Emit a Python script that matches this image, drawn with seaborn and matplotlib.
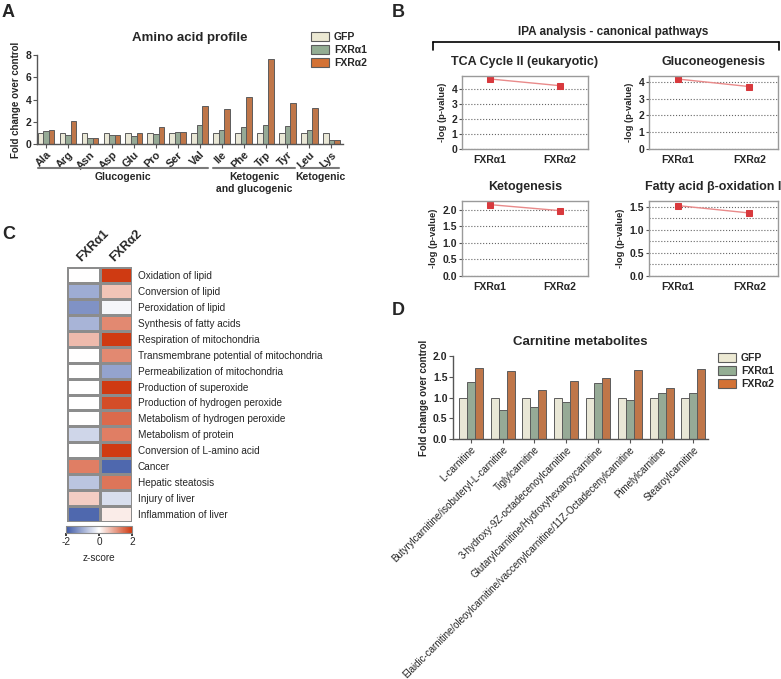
"""Multi-panel figure: amino acids, IPA pathways, heatmap and carnitines."""

import matplotlib
matplotlib.use("Agg")
import matplotlib.pyplot as plt
from matplotlib.colors import LinearSegmentedColormap
from matplotlib.lines import Line2D
from matplotlib.ticker import MultipleLocator
import pandas as pd
import seaborn as sns

# ---- data -------------------------------------------------------------
groups = ["GFP", "FXRα1", "FXRα2"]
palette = ["#ece9d3", "#93ad93", "#d37235"]

amino_acids = ["Ala", "Arg", "Asn", "Asp", "Glu", "Pro", "Ser", "Val",
               "Ile", "Phe", "Trp", "Tyr", "Leu", "Lys"]
aa_gfp = [1, 1, 1, 1, 1, 1, 1, 1, 1, 1, 1, 1, 1, 1]
aa_fxr1 = [1.15, 0.80, 0.55, 0.82, 0.70, 0.90, 1.07, 1.70,
           1.27, 1.55, 1.72, 1.62, 1.27, 0.38]
aa_fxr2 = [1.22, 2.05, 0.58, 0.85, 1.00, 1.55, 1.07, 3.45,
           3.15, 4.25, 7.60, 3.68, 3.20, 0.35]
aa_classes = [("Glucogenic", 0, 7), ("Ketogenic\nand glucogenic", 8, 11),
              ("Ketogenic", 12, 13)]

conditions = ["FXRα1", "FXRα2"]
pathway_titles = ["TCA Cycle II (eukaryotic)", "Gluconeogenesis",
                  "Ketogenesis", "Fatty acid β-oxidation I"]
tca = [4.70, 4.25]
gluconeo = [4.17, 3.72]
ketogenesis = [2.15, 1.97]
fa_oxidation = [1.53, 1.37]

functions = ["Oxidation of lipid", "Conversion of lipid", "Peroxidation of lipid",
             "Synthesis of fatty acids", "Respiration of mitochondria",
             "Transmembrane potential of mitochondria",
             "Permeabilization of mitochondria", "Production of superoxide",
             "Production of hydrogen peroxide", "Metabolism of hydrogen peroxide",
             "Metabolism of protein", "Conversion of L-amino acid", "Cancer",
             "Hepatic steatosis", "Injury of liver", "Inflammation of liver"]
z_fxr1 = [0.0, -1.0, -1.3, -0.9, 0.7, 0.0, 0.0, 0.0,
          0.0, 0.0, -0.5, 0.0, 1.3, -0.7, 0.5, -1.8]
z_fxr2 = [2.0, 0.6, -0.1, 1.2, 2.0, 1.2, -1.1, 2.0,
          1.8, 1.5, 1.3, 2.0, -1.8, 1.4, -0.4, 0.2]

carnitines = ["L-carnitine", "Butyrylcarnitine/isobuteryl-L-carnitine",
              "Tiglylcarnitine", "3-hydroxy-9Z-octadecenoylcarnitine",
              "Glutarylcarnitine/Hydroxyhexanoycarnitine",
              "Elaidic-carnitine/oleoylcarnitine/vaccenylcarnitine/11Z-Octadecenylcarnitine",
              "Pimelylcarnitine", "Stearoylcarnitine"]
carn_gfp = [1, 1, 1, 1, 1, 1, 1, 1]
carn_fxr1 = [1.37, 0.69, 0.78, 0.90, 1.34, 0.95, 1.12, 1.11]
carn_fxr2 = [1.70, 1.63, 1.19, 1.40, 1.46, 1.66, 1.22, 1.69]

W, H = 781, 679


def box(l, t, r, b):
    return [l / W, 1 - b / H, (r - l) / W, (b - t) / H]


def long_table(names, series):
    rows = []
    for g, vals in zip(groups, series):
        for n, v in zip(names, vals):
            rows.append({"name": n, "group": g, "value": v})
    return pd.DataFrame(rows)


def bar_panel(ax, df, width):
    sns.barplot(data=df, x="name", y="value", hue="group", palette=palette,
                width=width, edgecolor="#5c5c5c", linewidth=0.7, ax=ax,
                legend=False, errorbar=None)
    sns.despine(ax=ax)
    for s in ("left", "bottom"):
        ax.spines[s].set_color("#555555")
        ax.spines[s].set_linewidth(1.0)
    ax.set_xlabel("")
    ax.set_ylabel("Fold change over control", fontsize=7, fontweight="bold",
                  labelpad=3)
    ax.tick_params(axis="both", length=3, width=0.8, color="#555555", pad=1)


def bold_yticks(ax, size=7.5):
    for lab in ax.get_yticklabels():
        lab.set_fontweight("bold")
        lab.set_fontsize(size)


def bar_legend(fig, x, y):
    handles = [plt.Rectangle((0, 0), 1, 1, facecolor=c, edgecolor="#5c5c5c", lw=0.8)
               for c in palette]
    fig.legend(handles, groups, loc="upper left", bbox_to_anchor=(x / W, 1 - y / H),
               frameon=False, prop={"weight": "bold", "size": 7.5},
               handlelength=1.7, handleheight=1.0, labelspacing=0.25,
               handletextpad=0.5, borderpad=0, borderaxespad=0)


def main():
    sns.set_theme(style="ticks")
    plt.rcParams["font.family"] = ["Liberation Sans", "DejaVu Sans"]

    fig = plt.figure(figsize=(W / 100, H / 100), dpi=100)

    for letter, x, y in [("A", 2, 4), ("B", 392, 4), ("C", 2, 226), ("D", 392, 302)]:
        fig.text(x / W, 1 - y / H, letter, fontsize=13, fontweight="bold", va="top")

    # ---- A: amino acid profile ----
    ax = fig.add_axes(box(37, 55, 343, 144))
    bar_panel(ax, long_table(amino_acids, [aa_gfp, aa_fxr1, aa_fxr2]), 0.76)
    ax.set_ylim(0, 8)
    ax.set_yticks([0, 2, 4, 6, 8])
    bold_yticks(ax)
    ax.set_xlim(-0.41, 13.53)
    ax.set_xticks(range(len(amino_acids)))
    ax.set_xticklabels(amino_acids, rotation=45, ha="right",
                       rotation_mode="anchor", fontsize=7.8, fontweight="bold")
    ax.set_title("Amino acid profile", fontsize=9.5, fontweight="bold", pad=10)
    trans = ax.get_xaxis_transform()
    for name, i0, i1 in aa_classes:
        ax.plot([i0 - 0.38, i1 + 0.36], [-0.27, -0.27], color="#7a7a7a", lw=1.5,
                transform=trans, clip_on=False)
        ax.text((i0 + i1) / 2, -0.32, name, transform=trans, ha="center", va="top",
                fontsize=7.5, fontweight="bold", linespacing=1.2)
    bar_legend(fig, 311, 32)

    # ---- B: IPA canonical pathways ----
    fig.text(613 / W, 1 - 32 / H, "IPA analysis - canonical pathways",
             fontsize=8.5, fontweight="bold", ha="center", va="center")
    for xs, ys in [([433, 779], [42, 42]), ([433, 433], [42, 50]), ([779, 779], [42, 50])]:
        fig.add_artist(Line2D([x / W for x in xs], [1 - y / H for y in ys],
                              color="black", lw=1.2))

    specs = [(tca, box(462, 76, 588, 149), 4.9, 1, None),
             (gluconeo, box(649, 76, 778, 149), 4.35, 1, None),
             (ketogenesis, box(462, 201, 588, 276), 2.26, 0.5, None),
             (fa_oxidation, box(649, 201, 778, 276), 1.63, 0.5, 0.25)]
    for title, (vals, rect, top, step, minor) in zip(pathway_titles, specs):
        bx = fig.add_axes(rect)
        sns.pointplot(x=conditions, y=vals, ax=bx, color="#e98a8a",
                      marker="s", markersize=4.5, linewidth=1.0, errorbar=None)
        ln = bx.lines[-1]
        ln.set_markerfacecolor("#d8393d")
        ln.set_markeredgecolor("#d8393d")
        bx.set_xlim(-0.4, 1.4)
        bx.set_ylim(0, top)
        bx.yaxis.set_major_locator(MultipleLocator(step))
        if minor:
            bx.yaxis.set_minor_locator(MultipleLocator(minor))
            bx.grid(True, axis="y", which="minor", ls=":", color="#666666", lw=0.8)
            bx.tick_params(axis="y", which="minor", length=0)
        bx.grid(True, axis="y", which="major", ls=":", color="#666666", lw=0.8)
        if step == 0.5:
            bx.yaxis.set_major_formatter("{x:.1f}")
        for s in bx.spines.values():
            s.set_color("#9a9a9a")
            s.set_linewidth(1.0)
        bx.tick_params(axis="x", length=0, pad=4)
        bx.tick_params(axis="y", length=2.5, width=0.8, color="#555555", pad=1)
        for lab in bx.get_xticklabels() + bx.get_yticklabels():
            lab.set_fontweight("bold")
            lab.set_fontsize(7.5)
        bx.set_xlabel("")
        bx.set_ylabel("-log (p-value)", fontsize=6.8, fontweight="bold", labelpad=3)
        bx.set_title(title, fontsize=9, fontweight="bold", pad=8)

    # ---- C: heatmap ----
    hm = pd.DataFrame({"FXRα1": z_fxr1, "FXRα2": z_fxr2}, index=functions)
    cmap = LinearSegmentedColormap.from_list("zs", ["#3d58a6", "#ffffff", "#cf3a12"])
    hx = fig.add_axes(box(67, 267, 132, 522))
    cx = fig.add_axes(box(66, 526, 132, 533))
    sns.heatmap(hm, ax=hx, cmap=cmap, vmin=-2, vmax=2, linewidths=0.8,
                linecolor="#8c8c8c", cbar_ax=cx, yticklabels=True, xticklabels=True,
                cbar_kws={"orientation": "horizontal"})
    hx.yaxis.tick_right()
    hx.set_yticklabels(functions, rotation=0, fontsize=7.2)
    hx.tick_params(axis="y", length=0, pad=4)
    hx.xaxis.tick_top()
    hx.set_xticklabels(hm.columns, rotation=45, ha="left", rotation_mode="anchor",
                       fontsize=9, fontweight="bold")
    hx.tick_params(axis="x", length=0, pad=2)
    cbar = hx.collections[0].colorbar
    cbar.set_ticks([-2, 0, 2])
    cbar.outline.set_edgecolor("#8c8c8c")
    cbar.outline.set_linewidth(0.8)
    cx.set_xticklabels(["-2", "0", "2"], fontsize=7.2)
    cx.tick_params(length=2, pad=1)
    cx.set_xlabel("z-score", fontsize=7.2)

    # ---- D: carnitine metabolites ----
    dx = fig.add_axes(box(453, 356, 708, 439))
    bar_panel(dx, long_table(carnitines, [carn_gfp, carn_fxr1, carn_fxr2]), 0.75)
    dx.set_ylim(0, 2)
    dx.set_yticks([0, 0.5, 1.0, 1.5, 2.0])
    dx.yaxis.set_major_formatter("{x:.1f}")
    bold_yticks(dx)
    dx.set_xlim(-0.56, 7.46)
    dx.set_xticks(range(len(carnitines)))
    dx.set_xticklabels(carnitines, rotation=45, ha="right",
                       rotation_mode="anchor", fontsize=7)
    dx.set_title("Carnitine metabolites", fontsize=9.5, fontweight="bold", pad=8)
    bar_legend(fig, 718, 353)

    fig.savefig("out.png", dpi=100)


if __name__ == "__main__":
    main()
